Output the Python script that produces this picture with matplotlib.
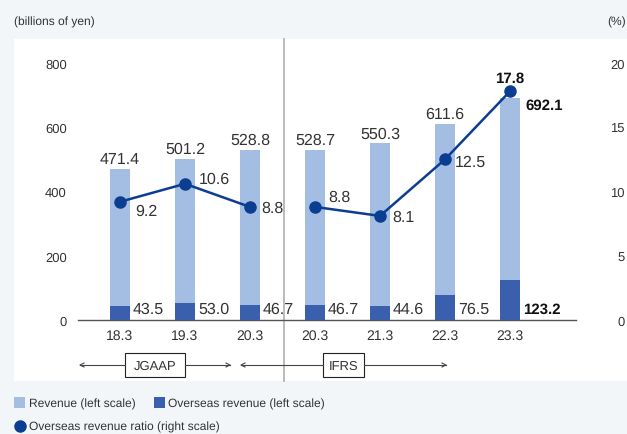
import matplotlib.pyplot as plt
from matplotlib.patches import Rectangle
import numpy as np

plt.rcParams['font.family'] = ['Liberation Sans', 'DejaVu Sans']
plt.rcParams['text.hinting'] = 'no_hinting'
plt.rcParams['text.hinting_factor'] = 1

categories = ['18.3', '19.3', '20.3', '20.3', '21.3', '22.3', '23.3']
standards = ['JGAAP', 'JGAAP', 'JGAAP', 'IFRS', 'IFRS', 'IFRS', 'IFRS']
revenue = [471.4, 501.2, 528.8, 528.7, 550.3, 611.6, 692.1]
overseas = [43.5, 53.0, 46.7, 46.7, 44.6, 76.5, 123.2]
ratio = [9.2, 10.6, 8.8, 8.8, 8.1, 12.5, 17.8]
left_ticks = [0, 200, 400, 600, 800]
right_ticks = [0, 5, 10, 15, 20]

W, H = 627, 435
BG = '#f2f6f8'
LIGHT = '#a3bde3'
DARK = '#3a5fad'
LINE = '#0b3d91'
TXT = '#333333'
FS = 11.5

fig = plt.figure(figsize=(W / 100, H / 100), dpi=100, facecolor=BG)

def fx(x):
    return x / W

def fy(y):
    return 1 - y / H

# white panel
fig.patches.append(Rectangle((fx(14), fy(382)), fx(627) - fx(14), fy(40) - fy(382),
                             transform=fig.transFigure, facecolor='white', edgecolor='none', zorder=-5))

ax = fig.add_axes([fx(78), fy(321), fx(576) - fx(78), fy(64) - fy(321)])
ax.set_zorder(2)
ax.set_facecolor('none')
x = np.arange(len(categories))
ax.set_xlim((78 - 120) / 65, (576 - 120) / 65)
ax.set_ylim(0, 800)
bw = 20 / 65
ax.bar(x, revenue, width=bw, color=LIGHT, zorder=2)
ax.bar(x, overseas, width=bw, color=DARK, zorder=3)

for s in ['top', 'right', 'left']:
    ax.spines[s].set_visible(False)
ax.spines['bottom'].set_color('#555555')
ax.spines['bottom'].set_linewidth(1.0)
ax.set_yticks(left_ticks)
ax.set_yticklabels([str(t) for t in left_ticks], fontsize=9.5, color=TXT)
ax.tick_params(axis='y', length=0, pad=8)
ax.set_xticks(x)
ax.set_xticklabels(categories, fontsize=10, color=TXT)
ax.tick_params(axis='x', length=0, pad=6)

ax2 = ax.twinx()
ax2.set_zorder(3)
ax2.set_facecolor('none')
ax2.set_ylim(0, 20)
for s in ['top', 'right', 'left', 'bottom']:
    ax2.spines[s].set_visible(False)
ax2.set_yticks(right_ticks)
ax2.set_yticklabels([str(t) for t in right_ticks], fontsize=9.5, color=TXT, ha='right')
ax2.tick_params(axis='y', length=0, pad=35)
for std in ['JGAAP', 'IFRS']:
    idx = [i for i, s in enumerate(standards) if s == std]
    ax2.plot(x[idx], [ratio[i] for i in idx], color=LINE, lw=1.8, marker='o', ms=8,
             zorder=5, clip_on=False)

# revenue labels
for i, v in enumerate(revenue):
    if i == len(revenue) - 1:
        ax.annotate(f'{v:.1f}', (x[i] + bw / 2, v), xytext=(5, -7), textcoords='offset pixels',
                    ha='left', va='center', fontsize=FS - 0.5, fontweight='bold', color='#111111')
    else:
        ax.annotate(f'{v:.1f}', (x[i], v), xytext=(0, 10), textcoords='offset pixels',
                    ha='center', va='center', fontsize=FS, color=TXT)

# overseas labels
for i, v in enumerate(overseas):
    bold = i == len(overseas) - 1
    ax.annotate(f'{v:.1f}', (x[i] + bw / 2, 0), xytext=(3, 11), textcoords='offset pixels',
                ha='left', va='center', fontsize=FS - 0.5 if bold else FS,
                color='#111111' if bold else TXT,
                fontweight='bold' if bold else 'normal')

# ratio labels
offs = [(15, -9), (14, 5), (11, -1), (13, 10), (12, -1), (10, -2), (0, 13)]
for i, v in enumerate(ratio):
    dx, dy = offs[i]
    bold = i == len(ratio) - 1
    ax2.annotate(f'{v:.1f}', (x[i], v), xytext=(dx, dy), textcoords='offset pixels',
                 ha='center' if bold else 'left', va='center', fontsize=FS - 0.5 if bold else FS,
                 color='#111111' if bold else TXT, fontweight='bold' if bold else 'normal',
                 zorder=6)

# divider
fig.add_artist(plt.Line2D([fx(284), fx(284)], [fy(40), fy(382)], transform=fig.transFigure,
                          color='#b5b5b5', lw=1.3, zorder=1))

# brackets
def bracket(x0, x1, bx0, bx1, label):
    yc = fy(366)
    for xs, xe in [(bx0, x0), (bx1, x1)]:
        fig.add_artist(plt.Line2D([fx(xs), fx(xe)], [yc, yc], transform=fig.transFigure,
                                  color='#444444', lw=0.8))
        d = 1 if xe > xs else -1
        fig.add_artist(plt.Line2D([fx(xe - 4 * d), fx(xe), fx(xe - 4 * d)],
                                  [yc + 2 / H, yc, yc - 2 / H], transform=fig.transFigure,
                                  color='#444444', lw=0.8))
    fig.patches.append(Rectangle((fx(bx0), fy(378)), fx(bx1) - fx(bx0), fy(354) - fy(378),
                                 transform=fig.transFigure, facecolor='white',
                                 edgecolor='#222222', lw=0.8))
    fig.text(fx((bx0 + bx1) / 2), fy(366.5), label, ha='center', va='center', fontsize=9.5, color=TXT)

bracket(80, 230, 125, 185, 'JGAAP')
bracket(241, 446, 323, 364, 'IFRS')

# header texts
fig.text(fx(14), fy(22), '(billions of yen)', ha='left', va='center', fontsize=8.8, color=TXT)
fig.text(fx(626), fy(22), '(%)', ha='right', va='center', fontsize=8.8, color=TXT)

# legend
LFS = 8.8
fig.patches.append(Rectangle((fx(14), fy(409)), fx(25) - fx(14), fy(398) - fy(409),
                             transform=fig.transFigure, facecolor=LIGHT, edgecolor='none'))
fig.text(fx(29), fy(404), 'Revenue (left scale)', ha='left', va='center', fontsize=LFS, color=TXT)
fig.patches.append(Rectangle((fx(154), fy(409)), fx(165) - fx(154), fy(398) - fy(409),
                             transform=fig.transFigure, facecolor=DARK, edgecolor='none'))
fig.text(fx(168), fy(404), 'Overseas revenue (left scale)', ha='left', va='center', fontsize=LFS, color=TXT)
fig.add_artist(plt.Line2D([fx(20)], [fy(427)], transform=fig.transFigure, marker='o', ms=8,
                          color=LINE, lw=0))
fig.text(fx(29), fy(427), 'Overseas revenue ratio (right scale)', ha='left', va='center', fontsize=LFS, color=TXT)

fig.savefig('out.png', dpi=100, facecolor=BG)
